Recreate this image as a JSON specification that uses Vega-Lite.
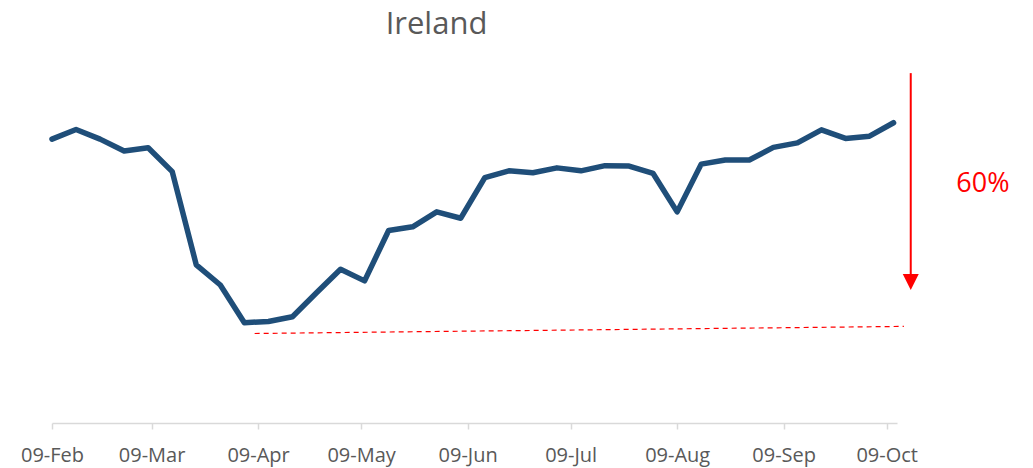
{
  "$schema": "https://vega.github.io/schema/vega-lite/v6.json",
  "width": 845,
  "height": 373,
  "autosize": {"type": "none"},
  "padding": {"left": 52, "top": 50, "right": 136, "bottom": 45},
  "background": "white",
  "config": {"view": {"stroke": null}, "font": "Open Sans"},
  "title": {"text": "Ireland", "fontSize": 31, "font": "Open Sans", "fontWeight": "normal", "color": "#595959", "anchor": "middle", "dx": -38, "dy": 30, "baseline": "alphabetic", "offset": 15},
  "datasets": {
    "mobility": [
      {"date": "2020-02-09", "value": 76.1},
      {"date": "2020-02-16", "value": 78.7},
      {"date": "2020-02-23", "value": 76.1},
      {"date": "2020-03-01", "value": 72.9},
      {"date": "2020-03-08", "value": 73.8},
      {"date": "2020-03-15", "value": 67.4},
      {"date": "2020-03-22", "value": 42.4},
      {"date": "2020-03-29", "value": 37.0},
      {"date": "2020-04-05", "value": 26.9},
      {"date": "2020-04-12", "value": 27.2},
      {"date": "2020-04-19", "value": 28.5},
      {"date": "2020-04-26", "value": 34.9},
      {"date": "2020-05-03", "value": 41.2},
      {"date": "2020-05-10", "value": 38.1},
      {"date": "2020-05-17", "value": 51.6},
      {"date": "2020-05-24", "value": 52.6},
      {"date": "2020-05-31", "value": 56.6},
      {"date": "2020-06-07", "value": 54.9},
      {"date": "2020-06-14", "value": 65.8},
      {"date": "2020-06-21", "value": 67.6},
      {"date": "2020-06-28", "value": 67.1},
      {"date": "2020-07-05", "value": 68.4},
      {"date": "2020-07-12", "value": 67.6},
      {"date": "2020-07-19", "value": 69.0},
      {"date": "2020-07-26", "value": 68.9},
      {"date": "2020-08-02", "value": 66.9},
      {"date": "2020-08-09", "value": 56.6},
      {"date": "2020-08-16", "value": 69.4},
      {"date": "2020-08-23", "value": 70.5},
      {"date": "2020-08-30", "value": 70.5},
      {"date": "2020-09-06", "value": 73.9},
      {"date": "2020-09-13", "value": 75.1},
      {"date": "2020-09-20", "value": 78.6},
      {"date": "2020-09-27", "value": 76.3},
      {"date": "2020-10-04", "value": 76.9},
      {"date": "2020-10-11", "value": 80.5}
    ],
    "trough": [
      {"date": "2020-04-08", "value": 24.0},
      {"date": "2020-10-14", "value": 25.9}
    ],
    "arrow": [
      {"date": "2020-10-16", "top": 93.8, "bottom": 39.5, "tip": 37.8}
    ],
    "label": [
      {"date": "2020-11-06", "value": 61.9, "text": "60%"}
    ]
  },
  "encoding": {
    "x": {
      "field": "date",
      "type": "temporal",
      "scale": {
        "type": "utc",
        "domain": [
          {"year": 2020, "month": "feb", "date": 9, "utc": true},
          {"year": 2020, "month": "oct", "date": 12, "utc": true}
        ],
        "nice": false
      },
      "axis": {
        "title": null,
        "grid": false,
        "labelExpr": "utcFormat(datum.value, '%d-%b')",
        "values": [
          {"year": 2020, "month": "feb", "date": 9, "utc": true},
          {"year": 2020, "month": "mar", "date": 9, "utc": true},
          {"year": 2020, "month": "apr", "date": 9, "utc": true},
          {"year": 2020, "month": "may", "date": 9, "utc": true},
          {"year": 2020, "month": "jun", "date": 9, "utc": true},
          {"year": 2020, "month": "jul", "date": 9, "utc": true},
          {"year": 2020, "month": "aug", "date": 9, "utc": true},
          {"year": 2020, "month": "sep", "date": 9, "utc": true},
          {"year": 2020, "month": "oct", "date": 9, "utc": true}
        ],
        "domainColor": "#d9d9d9",
        "domainWidth": 1.5,
        "tickColor": "#d9d9d9",
        "tickWidth": 1.5,
        "tickSize": 6,
        "labelFont": "Open Sans",
        "labelFontSize": 20,
        "labelColor": "#595959",
        "labelPadding": 16,
        "labelFlush": false,
        "labelOverlap": false
      }
    }
  },
  "layer": [
    {
      "data": {"name": "trough"},
      "mark": {"type": "line", "color": "#ff0000", "strokeWidth": 1.2, "strokeDash": [5, 4]},
      "encoding": {
        "y": {"field": "value", "type": "quantitative", "scale": {"domain": [0, 100], "nice": false, "zero": false}, "axis": null}
      }
    },
    {
      "data": {"name": "mobility"},
      "mark": {"type": "line", "color": "#1f4e79", "strokeWidth": 5.5, "strokeCap": "round", "strokeJoin": "round"},
      "encoding": {
        "y": {"field": "value", "type": "quantitative", "scale": {"domain": [0, 100], "nice": false, "zero": false}, "axis": null}
      }
    },
    {
      "data": {"name": "arrow"},
      "mark": {"type": "rule", "color": "#ff0000", "strokeWidth": 2},
      "encoding": {
        "y": {"field": "top", "type": "quantitative", "scale": {"domain": [0, 100], "nice": false, "zero": false}, "axis": null},
        "y2": {"field": "bottom"}
      }
    },
    {
      "data": {"name": "arrow"},
      "mark": {"type": "point", "shape": "M-1,-1L1,-1L0,1Z", "size": 256, "filled": true, "color": "#ff0000", "opacity": 1, "strokeWidth": 0},
      "encoding": {
        "y": {"field": "tip", "type": "quantitative", "scale": {"domain": [0, 100], "nice": false, "zero": false}, "axis": null}
      }
    },
    {
      "data": {"name": "label"},
      "mark": {"type": "text", "color": "#ff0000", "font": "Open Sans", "fontSize": 27, "align": "center", "baseline": "alphabetic"},
      "encoding": {
        "y": {"field": "value", "type": "quantitative", "scale": {"domain": [0, 100], "nice": false, "zero": false}, "axis": null},
        "text": {"field": "text"}
      }
    }
  ]
}
